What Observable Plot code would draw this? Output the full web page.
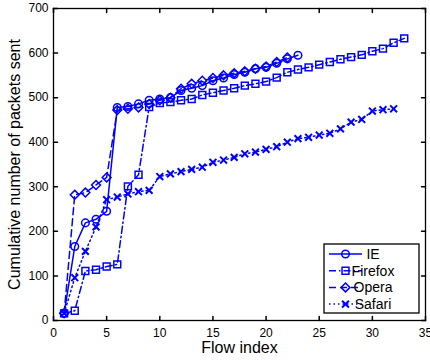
<!DOCTYPE html>
<html><head><meta charset="utf-8">
<script src="https://cdn.jsdelivr.net/npm/d3@7"></script>
<script src="https://cdn.jsdelivr.net/npm/@observablehq/plot@0.6"></script>
<style>
html,body{margin:0;padding:0;background:#fff;}
#chart{width:430px;height:360px;overflow:hidden;}
</style>
</head><body><div id="chart"></div>
<script>
const series = ["IE", "Firefox", "Opera", "Safari"];
const ieCounts = [16,166,219,227,245,478,480,486,494,497,500,516,521,527,538,544,552,557,565,568,577,587,595];
const firefoxCounts = [16,22,111,114,121,126,301,327,479,488,490,494,497,506,511,516,521,527,531,536,545,557,563,568,574,580,586,591,596,604,610,623,633];
const operaCounts = [16,282,287,304,321,472,475,478,486,494,500,520,531,538,544,550,555,559,565,570,580,590];
const safariCounts = [16,96,155,210,271,277,284,289,292,323,329,334,339,344,355,360,366,374,378,384,390,400,408,411,416,420,430,445,451,470,473,475];
const xTicks = [0,5,10,15,20,25,30,35];
const yTicks = [0,100,200,300,400,500,600,700];
const xLabel = "Flow index";
const yLabel = "Cumulative number of packets sent";

const countsBySeries = [ieCounts, firefoxCounts, operaCounts, safariCounts];
const blue = "#0000ff";
const styleOf = {
  IE:      {dash: null,        symbol: "circle",   d3sym: d3.symbolCircle,   r: 3.8, sw: 1.5},
  Firefox: {dash: "7,3,1.5,3", symbol: "square",   d3sym: d3.symbolSquare,   r: 3.9, sw: 1.5},
  Opera:   {dash: "7,4",       symbol: "diamond2", d3sym: d3.symbolDiamond2, r: 4.0, sw: 1.5},
  Safari:  {dash: "1.5,3",     symbol: "times",    d3sym: d3.symbolTimes,    r: 3.2, sw: 2}
};

const rows = series.flatMap((s, k) => countsBySeries[k].map((v, i) => ({series: s, flow: i + 1, packets: v})));

const tickShape = {draw(ctx, l) { ctx.moveTo(0, 0); ctx.lineTo(0, -l); }};
const tickLen = 4;

const marks = [];
for (const s of series) {
  const st = styleOf[s];
  const d = rows.filter(r => r.series === s);
  marks.push(Plot.line(d, {x: "flow", y: "packets", stroke: blue, strokeWidth: 1.5, strokeDasharray: st.dash}));
}
for (const s of series) {
  const st = styleOf[s];
  const d = rows.filter(r => r.series === s);
  marks.push(Plot.dot(d, {x: "flow", y: "packets", symbol: st.symbol, r: st.r, stroke: blue, fill: "none", strokeWidth: st.sw}));
}

const chart = Plot.plot({
  width: 430,
  height: 360,
  marginLeft: 53,
  marginRight: 5,
  marginTop: 8,
  marginBottom: 40,
  style: {fontFamily: "'Liberation Sans', Arial, Helvetica, sans-serif", fontSize: "12px", background: "white", color: "black"},
  x: {domain: [0, 35]},
  y: {domain: [0, 700]},
  marks: [
    Plot.axisX(xTicks, {tickSize: 0, tickPadding: 8, label: null, fontSize: 12}),
    Plot.axisY(yTicks, {tickSize: 0, tickPadding: 5, label: null, fontSize: 12}),
    Plot.vector(xTicks, {x: d => d, frameAnchor: "bottom", rotate: 0, anchor: "start", length: tickLen, shape: tickShape, stroke: "black"}),
    Plot.vector(xTicks, {x: d => d, frameAnchor: "top", rotate: 180, anchor: "start", length: tickLen, shape: tickShape, stroke: "black"}),
    Plot.vector(yTicks, {y: d => d, frameAnchor: "left", rotate: 90, anchor: "start", length: tickLen, shape: tickShape, stroke: "black"}),
    Plot.vector(yTicks, {y: d => d, frameAnchor: "right", rotate: -90, anchor: "start", length: tickLen, shape: tickShape, stroke: "black"}),
    ...marks,
    Plot.frame({stroke: "black", strokeWidth: 1.3}),
    Plot.text([yLabel], {frameAnchor: "left", dx: -39, rotate: -90, textAnchor: "middle", lineAnchor: "middle", fontSize: 16, fill: "black"}),
    Plot.text([xLabel], {frameAnchor: "bottom", dy: 27, textAnchor: "middle", lineAnchor: "middle", fontSize: 16, fill: "black"})
  ]
});
document.getElementById("chart").appendChild(chart);

// Legend inside plot area (lower right)
const svg = d3.select(chart);
const frameRight = 430 - 5, frameBottom = 360 - 40;
const lw = 95, lh = 69;
const lx = frameRight - 6 - lw, ly = frameBottom - 7 - lh;
const g = svg.append("g").attr("font-family", "'Liberation Sans', Arial, Helvetica, sans-serif").attr("font-size", 14);
g.append("rect").attr("x", lx).attr("y", ly).attr("width", lw).attr("height", lh)
  .attr("fill", "white").attr("stroke", "black").attr("stroke-width", 1.3);
series.forEach((s, i) => {
  const st = styleOf[s];
  const yy = ly + 10 + i * 16.7;
  g.append("line").attr("x1", lx + 5).attr("x2", lx + 38).attr("y1", yy).attr("y2", yy)
    .attr("stroke", blue).attr("stroke-width", 1.5).attr("stroke-dasharray", st.dash);
  g.append("path").attr("d", d3.symbol(st.d3sym, Math.PI * st.r * st.r)())
    .attr("transform", `translate(${lx + 21.5},${yy})`)
    .attr("fill", "none").attr("stroke", blue).attr("stroke-width", st.sw);
  g.append("text").attr("x", lx + 49).attr("y", yy).attr("dy", "0.35em").attr("fill", "black").text(s);
});
</script>
</body></html>
